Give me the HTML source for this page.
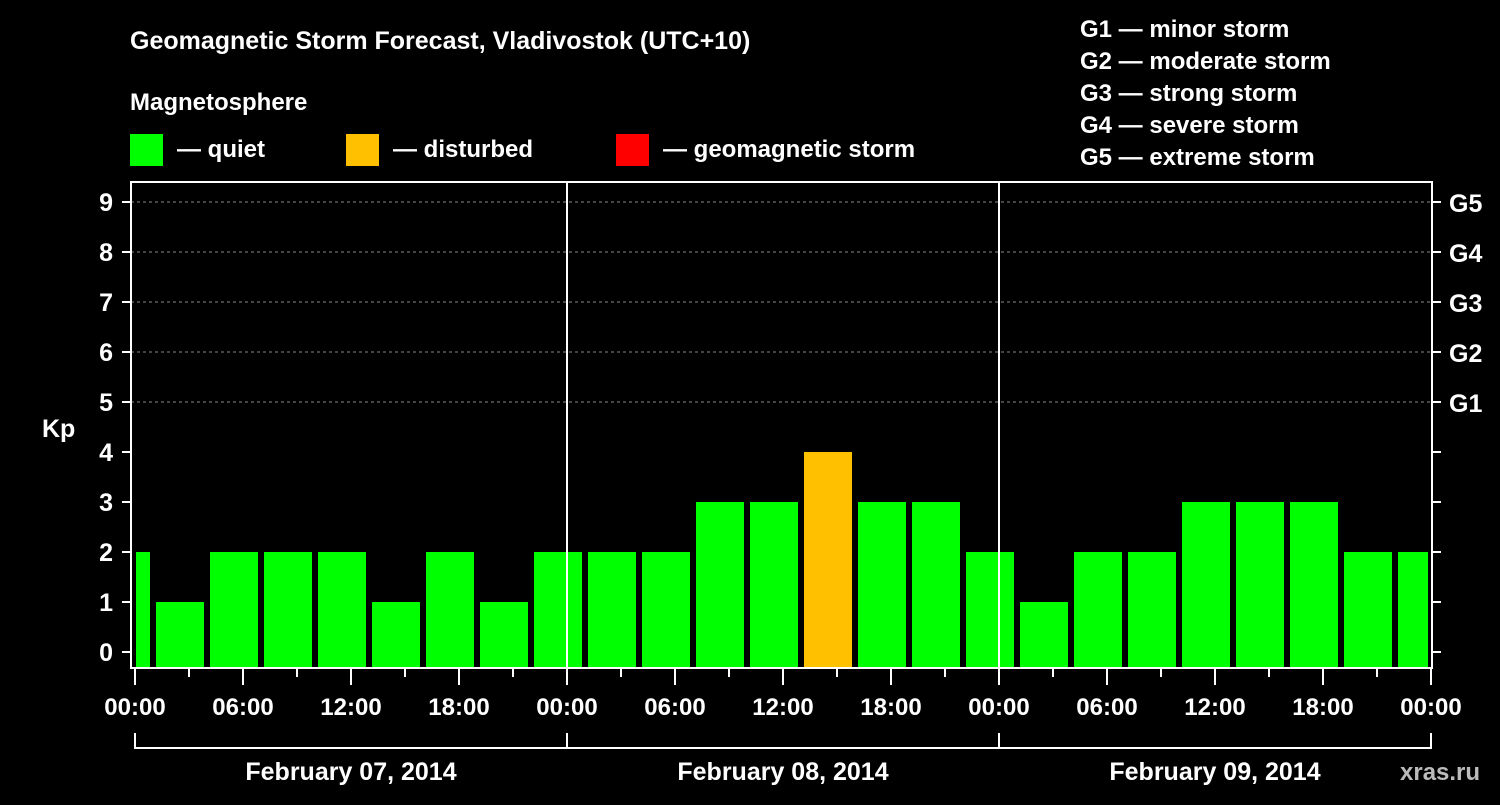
<!DOCTYPE html>
<html><head><meta charset="utf-8"><style>
body{margin:0;background:#000;}
svg text{font-family:"Liberation Sans",Arial,sans-serif;font-weight:bold;fill:#fff;}
</style></head><body>
<svg id="chart" width="1500" height="800" viewBox="0 0 1500 800">
<rect x="0" y="0" width="1500" height="800" fill="#000"/>
<text x="130" y="49" font-size="25">Geomagnetic Storm Forecast, Vladivostok (UTC+10)</text>
<text x="130" y="110" font-size="24">Magnetosphere</text>
<rect x="130" y="134" width="33" height="32" fill="#00ff00"/>
<text x="177" y="157" font-size="24">— quiet</text>
<rect x="346" y="134" width="33" height="32" fill="#ffc000"/>
<text x="393" y="157" font-size="24">— disturbed</text>
<rect x="616" y="134" width="33" height="32" fill="#ff0000"/>
<text x="663" y="157" font-size="24">— geomagnetic storm</text>
<g font-size="24">
<text x="1080" y="37">G1 — minor storm</text>
<text x="1080" y="69">G2 — moderate storm</text>
<text x="1080" y="101">G3 — strong storm</text>
<text x="1080" y="133">G4 — severe storm</text>
<text x="1080" y="165">G5 — extreme storm</text>
</g>
<text x="42" y="437" font-size="25">Kp</text>
<text x="1400" y="780" font-size="24" fill="#bbb" style="fill:#bbb">xras.ru</text>
<g id="plot"></g>
</svg>
<script>
const binStartHours=[-2,1,4,7,10,13,16,19,22,25,28,31,34,37,40,43,46,49,52,55,58,61,64,67,70];
const kpValues=[2,1,2,2,2,1,2,1,2,2,2,3,3,4,3,3,2,1,2,2,3,3,3,2,2];
const yTicks=[0,1,2,3,4,5,6,7,8,9];
const gLabels=["G1","G2","G3","G4","G5"];
const xTickLabels=["00:00","06:00","12:00","18:00","00:00","06:00","12:00","18:00","00:00","06:00","12:00","18:00","00:00"];
const dayLabels=["February 07, 2014","February 08, 2014","February 09, 2014"];
const NS="http://www.w3.org/2000/svg";
const g=document.getElementById('plot');
const X=h=>135+h*18;
const Y=v=>652-v*50;
const L=131,R=1432,T=182,B=668;
function mk(t,a){const e=document.createElementNS(NS,t);for(const k in a)e.setAttribute(k,a[k]);g.appendChild(e);return e;}
// grid
for(let v=5;v<=9;v++){const e=mk('line',{x1:L,x2:R,y1:Y(v),y2:Y(v),stroke:'#888','stroke-dasharray':'3,3','stroke-width':1});

}
// bars
binStartHours.forEach((h,i)=>{
 const v=kpValues[i];
 let x1=Math.max(X(h)+3,X(0)+1), x2=Math.min(X(h+3)-3,X(72)-3);
 const col=v>=5?'#ff0000':(v>=4?'#ffc000':'#00ff00');
 const r=mk('rect',{x:x1,y:Y(v),width:x2-x1,height:B-Y(v),fill:col});
 
 
});
// day separators
[24,48].forEach(h=>{const e=mk('line',{x1:X(h),x2:X(h),y1:T,y2:B,stroke:'#fff','stroke-width':2});

});
// frame
const f=mk('rect',{x:L,y:T,width:R-L,height:B-T,fill:'none',stroke:'#fff','stroke-width':2});


// y ticks
yTicks.forEach(v=>{
 mk('line',{x1:122,x2:L,y1:Y(v),y2:Y(v),stroke:'#fff','stroke-width':2});
 mk('line',{x1:R,x2:1441,y1:Y(v),y2:Y(v),stroke:'#fff','stroke-width':2});
 const t=mk('text',{x:113,y:Y(v)+9,'text-anchor':'end','font-size':25});t.textContent=v;
 
 
});
gLabels.forEach((s,i)=>{const t=mk('text',{x:1449,y:Y(5+i)+10,'font-size':25});t.textContent=s;
 
 });
// x ticks
for(let h=0;h<=72;h+=3){mk('line',{x1:X(h),x2:X(h),y1:B,y2:(h%6==0)?685:677,stroke:'#fff','stroke-width':2});}
xTickLabels.forEach((s,i)=>{const t=mk('text',{x:X(i*6),y:715,'text-anchor':'middle','font-size':24});t.textContent=s;
 
 });
// bracket
mk('line',{x1:X(0),x2:X(72),y1:748,y2:748,stroke:'#fff','stroke-width':2});
[0,24,48,72].forEach(h=>mk('line',{x1:X(h),x2:X(h),y1:733,y2:749,stroke:'#fff','stroke-width':2}));
dayLabels.forEach((s,i)=>{const t=mk('text',{x:X(i*24+12),y:780,'text-anchor':'middle','font-size':25});t.textContent=s;
 
 });
</script>
</body></html>
